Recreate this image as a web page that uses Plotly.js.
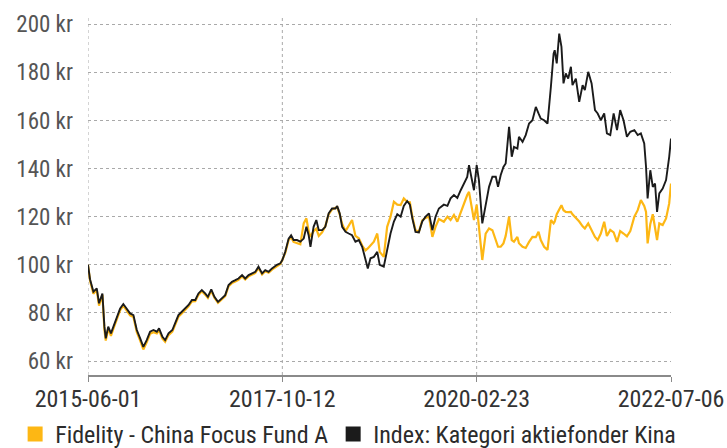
<!DOCTYPE html>
<html>
<head>
<meta charset="utf-8">
<script src="https://cdn.plot.ly/plotly-3.0.1.min.js"></script>
<style>html,body{margin:0;padding:0;background:#fff;}#chart{width:727px;height:448px;}</style>
</head>
<body>
<div id="chart"></div>
<script>
const dates = [
'2015-06-01','2015-06-10','2015-06-25','2015-07-10','2015-07-20','2015-08-04','2015-08-13','2015-08-19','2015-08-30','2015-09-11','2015-09-22','2015-10-07','2015-10-22','2015-11-05','2015-11-20','2015-12-05','2015-12-20',
'2016-01-04','2016-01-19','2016-02-02','2016-02-17','2016-03-03','2016-03-18','2016-04-02','2016-04-12','2016-04-27','2016-05-09','2016-05-24','2016-06-10','2016-06-22','2016-07-07','2016-07-22','2016-08-06','2016-08-21','2016-09-05','2016-09-20','2016-10-04','2016-10-19','2016-11-03','2016-11-15','2016-11-30','2016-12-14','2016-12-30',
'2017-01-16','2017-01-31','2017-02-15','2017-03-02','2017-03-17','2017-03-31','2017-04-16','2017-04-30','2017-05-15','2017-05-30','2017-06-14','2017-06-28','2017-07-14','2017-07-28','2017-08-12','2017-08-27','2017-09-18','2017-10-03','2017-10-12','2017-10-25','2017-11-09','2017-11-20','2017-12-01','2017-12-16','2017-12-31',
'2018-01-15','2018-01-27','2018-02-06','2018-02-14','2018-02-28','2018-03-12','2018-03-23','2018-04-07','2018-04-21','2018-05-06','2018-05-21','2018-06-05','2018-06-13','2018-06-24','2018-07-05','2018-07-20','2018-08-03','2018-08-18','2018-09-02','2018-09-17','2018-10-02','2018-10-17','2018-10-27','2018-11-08','2018-11-23','2018-12-08','2018-12-19',
'2019-01-06','2019-01-21','2019-02-05','2019-02-20','2019-03-07','2019-03-22','2019-04-05','2019-04-20','2019-05-02','2019-05-13','2019-05-27','2019-06-11','2019-06-26','2019-07-11','2019-07-26','2019-08-10','2019-08-24','2019-09-08','2019-09-30','2019-10-16','2019-10-30','2019-11-14','2019-11-29','2019-12-14','2019-12-28',
'2020-01-12','2020-01-20','2020-02-04','2020-02-11','2020-02-23','2020-03-04','2020-03-19','2020-04-03','2020-04-18','2020-05-03','2020-05-18','2020-05-28','2020-06-09','2020-06-21','2020-07-01','2020-07-16','2020-07-28','2020-08-07','2020-08-22','2020-08-29','2020-09-14','2020-09-28','2020-10-13','2020-10-28','2020-11-12','2020-11-24','2020-12-04','2020-12-19',
'2021-01-03','2021-01-18','2021-01-30','2021-02-04','2021-02-13','2021-02-24','2021-03-06','2021-03-15','2021-03-25','2021-04-05','2021-04-17','2021-04-24','2021-05-09','2021-05-24','2021-06-08','2021-06-18','2021-07-03','2021-07-18','2021-08-02','2021-08-14','2021-08-28','2021-09-12','2021-09-24','2021-10-09','2021-10-24','2021-11-08','2021-11-22','2021-12-07','2021-12-22',
'2022-01-06','2022-01-24','2022-02-08','2022-02-22','2022-03-09','2022-03-17','2022-03-24','2022-04-05','2022-04-16','2022-04-26','2022-05-05','2022-05-15','2022-05-30','2022-06-14','2022-06-28','2022-07-06'
];

const fundValues = [
100, 93.5, 88, 89.5, 83, 87.5, 73, 68.5, 73.5, 70.5, 73.5, 77.8, 81.2, 83, 81.2, 79, 78.3,
72, 68.5, 64.8, 67.8, 71.3, 72, 71.5, 72.8, 69.3, 68, 70.8, 72.2, 75, 78.4, 79.8, 81.3, 82.7, 84.8, 84.9, 87.5, 89, 87.6, 86.2, 89.2, 86.3, 84.2,
85.6, 87, 91.1, 92.4, 93.1, 93.8, 95.2, 93.9, 95.2, 95.9, 96.6, 98.7, 96, 97.3, 96.7, 98, 99.6, 100.3, 102, 105, 110.3, 111.5, 109.5, 109, 108.5,
117.2, 119.3, 114, 111.6, 114, 115, 112, 113.5, 116, 121, 123, 123.5, 124, 121, 117, 114, 116, 118.6, 112, 111, 108, 106, 106.8, 108, 109.6, 113, 105.4,
103.3, 115.8, 120, 126.2, 125, 124.8, 127.6, 126.2, 126, 120, 114.4, 113.7, 118.5, 119.5, 120, 111.6, 115.8, 119, 117.9, 120, 118.6, 120.7, 117.9, 122, 125.5,
129, 130.3, 121, 118.6, 125, 116, 102, 113, 115.1, 114.4, 110.3, 107.5, 107.5, 108.9, 112, 120, 110.3, 109.6, 111.6, 109, 107.5, 107, 109.5, 111.6, 111.5, 113.7, 110.3, 107.5,
106.2, 118.6, 117.2, 118, 121, 123, 124.8, 122.7, 122, 121.9, 122, 121, 119.5, 118, 116, 115.1, 117.2, 114.5, 111.6, 110.3, 113, 117.9, 112, 114.5, 113.5, 109.5, 114, 113, 111.8,
114, 120, 122.7, 126.9, 124.5, 122, 108.9, 117, 121, 115, 110.3, 117.2, 116.5, 119.3, 125.5, 133.8
];

const indexValues = [
100, 94, 88.8, 90.2, 84, 88.1, 74.3, 69.4, 74.3, 71.5, 74.3, 78.4, 81.9, 83.7, 81.9, 79.8, 79.1,
72.9, 69.4, 65.9, 68.7, 72.2, 72.9, 72.2, 73.6, 70.1, 68.7, 71.5, 72.9, 75.6, 79.1, 80.5, 81.9, 83.3, 85.4, 85.4, 88.1, 89.5, 88.1, 86.7, 89.8, 86.7, 84.6,
86.0, 87.4, 91.6, 92.9, 93.6, 94.3, 95.7, 94.3, 95.7, 96.4, 97.1, 99.2, 96.4, 97.8, 97.1, 98.5, 100, 100.6, 102, 105.4, 110.9, 112.3, 110.3, 110.3, 109.6,
110.9, 115.8, 112.3, 107.5, 115.8, 118.6, 114.4, 114.4, 115.8, 121.4, 123.4, 123.4, 124.4, 121.4, 115.8, 113.7, 113.0, 112.3, 109.6, 110.3, 107.5, 102.0, 98.5, 102.7, 103.3, 105.4, 100,
99.2, 106, 113, 118, 121, 120, 124.5, 126.5, 125, 119.3, 113.7, 113.5, 118, 120, 121.4, 114.4, 120, 123.4, 125, 124.5, 127.6, 129, 127.8, 131, 133.5,
136.5, 141.4, 135.2, 131, 141.4, 135.2, 117.2, 124.1, 132.4, 136.6, 136.6, 132.4, 137.3, 140.7, 142.1, 157.3, 144.9, 149.0, 148.3, 153.2, 151.1, 153.9, 158.7, 160.1, 165.6, 162.9, 160.8, 160.1,
158.7, 174.0, 187.8, 189.2, 183.7, 196.1, 190.6, 175.4, 179.5, 177.4, 182.3, 174.7, 177.4, 167.7, 174.7, 172.6, 180.2, 175.4, 164.3, 162.9, 160.1, 162.9, 154.6, 153.9, 162.9, 156.0, 164.3, 160.1, 153.2,
155.3, 156.0, 153.9, 154.6, 150.4, 140.7, 127.6, 139.3, 132.4, 133.8, 122.0, 129.7, 131.7, 135.2, 144.9, 152.5
];

const seriesNames = ['Fidelity - China Focus Fund A', 'Index: Kategori aktiefonder Kina'];
const xTickLabels = ['2015-06-01', '2017-10-12', '2020-02-23', '2022-07-06'];
const yTickValues = [60, 80, 100, 120, 140, 160, 180, 200];
const yTickLabels = yTickValues.map(v => v + ' kr');

const FUND_COLOR = '#FDB714';
const INDEX_COLOR = '#1b1b1b';
const GRID = '#a9a9a9';
const FONT = '"Roboto Condensed", "DejaVu Sans Condensed", sans-serif';

const traces = [
  {x: dates, y: fundValues, type: 'scatter', mode: 'lines', name: seriesNames[0],
   line: {color: FUND_COLOR, width: 2.2}, showlegend: false, hoverinfo: 'skip'},
  {x: dates, y: indexValues, type: 'scatter', mode: 'lines', name: seriesNames[1],
   line: {color: INDEX_COLOR, width: 1.9}, showlegend: false, hoverinfo: 'skip'},
  {x: [null], y: [null], type: 'scatter', mode: 'markers', name: seriesNames[0],
   marker: {symbol: 'square', size: 15, color: FUND_COLOR}, showlegend: true, hoverinfo: 'skip'},
  {x: [null], y: [null], type: 'scatter', mode: 'markers', name: seriesNames[1],
   marker: {symbol: 'square', size: 15, color: INDEX_COLOR}, showlegend: true, hoverinfo: 'skip'}
];

// vertical dashed grid lines at every x tick except the right edge
const vGrid = xTickLabels.slice(0, -1).map(d => ({
  type: 'line', xref: 'x', yref: 'paper', x0: d, x1: d, y0: 0, y1: 1, layer: 'below',
  line: {color: GRID, width: 1, dash: '3px,3px'}
}));

const layout = {
  width: 727, height: 448,
  margin: {l: 88, r: 56, t: 17, b: 73, pad: 0, autoexpand: false},
  paper_bgcolor: '#ffffff', plot_bgcolor: '#ffffff',
  font: {family: FONT, color: '#333'},
  showlegend: true,
  legend: {orientation: 'h', x: -0.125, xanchor: 'left', y: -0.103, yanchor: 'top',
           font: {family: FONT, size: 24, color: '#2b2b2b'}, bgcolor: 'rgba(0,0,0,0)',
           itemclick: false, itemdoubleclick: false},
  shapes: vGrid,
  xaxis: {
    type: 'date', range: ['2015-06-01', '2022-07-06'],
    tickvals: xTickLabels, ticktext: xTickLabels,
    tickfont: {family: FONT, size: 24, color: '#333'},
    ticklabeloverflow: 'allow', ticklabelstandoff: -3,
    showline: true, linecolor: '#8a8a8a', linewidth: 1.5,
    ticks: 'outside', ticklen: 5, tickcolor: '#8a8a8a', tickwidth: 1,
    showgrid: false, zeroline: false, fixedrange: true
  },
  yaxis: {
    range: [54.2, 203],
    tickvals: yTickValues, ticktext: yTickLabels,
    tickfont: {family: FONT, size: 23, color: '#555'},
    showline: false, ticks: '', ticklabelstandoff: 14,
    showgrid: true, gridcolor: GRID, gridwidth: 1, griddash: '3px,3px',
    zeroline: false, fixedrange: true
  }
};

Plotly.newPlot('chart', traces, layout, {displayModeBar: false, staticPlot: true});
</script>
</body>
</html>
